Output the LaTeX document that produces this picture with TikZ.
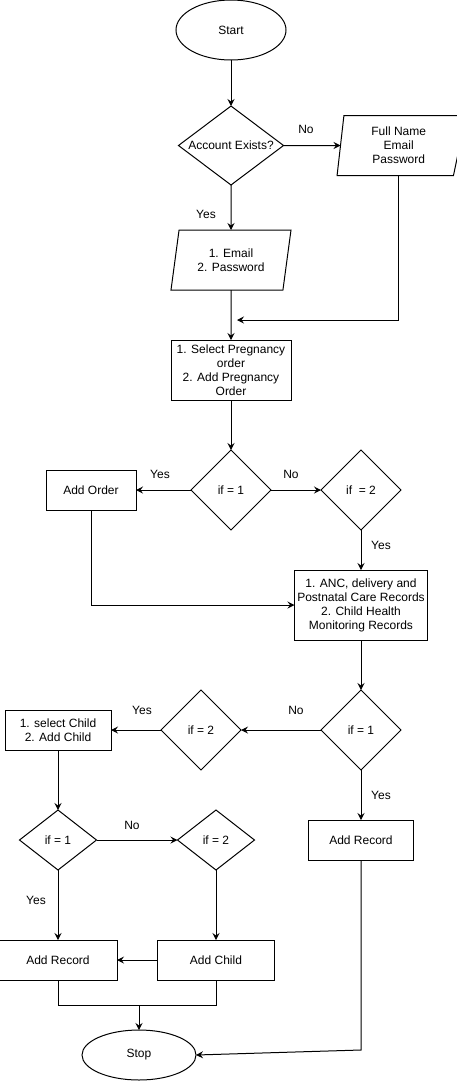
\documentclass[tikz,border=0pt]{standalone}
\usepackage{fontspec}
\setmainfont{Liberation Sans}
\usepackage{tikz}
\usetikzlibrary{arrows.meta,positioning,shapes.geometric}
\newcommand{\dfont}{\fontsize{12}{14}\selectfont}
\tikzset{
  term/.style={draw=black, ellipse, minimum width=110pt, minimum height=60pt,
    inner sep=0pt, outer sep=0pt, font=\dfont},
  decide/.style={draw=black, diamond, aspect=1, minimum width=80pt,
    minimum height=80pt, inner sep=0pt, outer sep=0pt, align=center, font=\dfont},
  smalldec/.style={decide, aspect=1.3, minimum width=77pt, minimum height=60pt},
  io/.style={draw=black, trapezium, trapezium left angle=72,
    trapezium right angle=108, trapezium stretches body,
    minimum width=120pt, minimum height=60pt, inner sep=1pt, outer sep=0pt,
    align=center, font=\dfont},
  proc/.style={draw=black, rectangle, minimum height=40pt, inner sep=2pt,
    outer sep=0pt, align=center, font=\dfont},
  lbl/.style={font=\dfont},
  flow/.style={-{Stealth[length=7pt,width=7pt,inset=2.5pt]}},
  link/.style={-}
}

\begin{document}
\begin{tikzpicture}[x=1pt, y=1pt, line width=1pt]
  \useasboundingbox (0,0) rectangle (457,-1082);

  % login
  \node[term] (start) at (231,-30) {Start};
  \node[decide, aspect=1.33, minimum width=105pt, minimum height=79pt,
    below=46pt of start] (acc) {Account Exists?};
  \node[io, trapezium left angle=80, minimum width=129pt, right=57pt of acc] (reg)
    {Full Name\\Email\\Password};
  \node[io, below=45pt of acc] (login) {1. Email\\2. Password};
  \node[proc, minimum width=120pt, minimum height=60pt, below=50pt of login] (preg)
    {1. Select Pregnancy\\order\\2. Add Pregnancy\\Order};
  \coordinate (in1) at (237,-320);
  \draw[flow] (start) -- (acc);
  \draw[flow] (acc) -- (reg);
  \draw[flow] (acc) -- (login);
  \draw[flow] (login) -- (preg);
  \draw[flow] (reg.center |- reg.south) |- (in1);
  \node[lbl] (no1) at (306,-129) {No};
  \node[lbl] (yes1) at (206,-214) {Yes};

  % pregnancy order
  \node[decide, below=50pt of preg] (ifa) {if = 1};
  \node[proc, minimum width=90pt, left=55pt of ifa] (order) {Add Order};
  \node[decide, right=50pt of ifa] (ifb) {if~~= 2};
  \node[proc, minimum width=133pt, minimum height=70pt, below=40pt of ifb] (anc)
    {1. ANC, delivery and\\Postnatal Care Records\\2. Child Health\\Monitoring Records};
  \draw[flow] (preg) -- (ifa);
  \draw[flow] (ifa) -- (order);
  \draw[flow] (ifa) -- (ifb);
  \draw[flow] (ifb) -- (anc);
  \draw[flow] (order.south) |- (anc.west);
  \node[lbl] (yes2) at (160,-474) {Yes};
  \node[lbl] (no2) at (291,-474) {No};
  \node[lbl] (yes3) at (381,-545) {Yes};

  % records
  \node[decide, below=50pt of anc] (ifc) {if = 1};
  \node[decide, left=80pt of ifc] (ifd) {if = 2};
  \node[proc, minimum width=106pt, left=50pt of ifd] (child)
    {1. select Child\\2. Add Child};
  \node[proc, minimum width=105pt, below=50pt of ifc] (recr) {Add Record};
  \draw[flow] (anc) -- (ifc);
  \draw[flow] (ifc) -- (ifd);
  \draw[flow] (ifd) -- (child);
  \draw[flow] (ifc) -- (recr);
  \node[lbl] (no3) at (296,-710) {No};
  \node[lbl] (yes4) at (142,-710) {Yes};
  \node[lbl] (yes5) at (381,-795) {Yes};

  % child
  \node[smalldec, below=60pt of child] (ife) {if = 1};
  \node[smalldec, right=81pt of ife] (iff) {if = 2};
  \node[proc, minimum width=118pt, below=70pt of ife] (recl) {Add Record};
  \node[proc, minimum width=117pt, below=70pt of iff] (addc) {Add Child};
  \draw[flow] (child) -- (ife);
  \draw[flow] (ife) -- (iff);
  \draw[flow] (ife) -- (recl);
  \draw[flow] (iff) -- (addc);
  \draw[flow] (addc) -- (recl);
  \node[lbl] (no4) at (132,-825) {No};
  \node[lbl] (yes6) at (36,-900) {Yes};

  % stop
  \node[term, minimum width=114pt, minimum height=50pt] (stop) at (139,-1055) {Stop};
  \coordinate (mrg) at (139,-1005);
  \coordinate (in2) at (361,-1050);
  \draw[link] (recl.south) -- ++(0,-25) -| (addc.south);
  \draw[flow] (mrg) -- (stop);
  \draw[flow] (recr.south) -- (in2) -- (stop.east);
\end{tikzpicture}
\end{document}
